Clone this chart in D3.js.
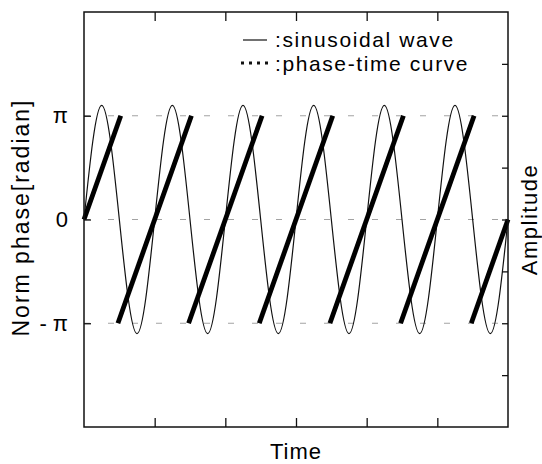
<!DOCTYPE html>
<html>
<head>
<meta charset="utf-8">
<script src="https://cdn.jsdelivr.net/npm/d3@7"></script>
<style>
  body { margin: 0; background: #fff; }
  text { font-family: "Liberation Sans", Arial, sans-serif; fill: #000; }
</style>
</head>
<body>
<div id="chart"></div>
<script>
// time axis (arbitrary units, one tick per period)
const timeTicks = [1, 2, 3, 4, 5];

// phase axis, in units of pi
const phaseTicks = [1, 0, -1];
const phaseTickLabels = ["\u03c0", "0", "- \u03c0"];

// amplitude axis (right side, unlabeled ticks)
const ampTicks = [-3, -2, -1, 0, 1, 2, 3];

// sinusoidal wave: zero crossings, peaks and troughs
const sineTime = [0, 0.25, 0.5, 0.75, 1, 1.25, 1.5, 1.75, 2, 2.25, 2.5, 2.75, 3,
                  3.25, 3.5, 3.75, 4, 4.25, 4.5, 4.75, 5, 5.25, 5.5, 5.75, 6];
const sineAmp = [0, 2.2, 0, -2.2, 0, 2.2, 0, -2.2, 0, 2.2, 0, -2.2, 0,
                 2.2, 0, -2.2, 0, 2.2, 0, -2.2, 0, 2.2, 0, -2.2, 0];

// phase-time curve: one straight segment per cycle (phase in units of pi)
const sawStartTime = [0, 0.48, 1.48, 2.48, 3.48, 4.48, 5.48];
const sawEndTime = [0.52, 1.52, 2.52, 3.52, 4.52, 5.52, 6];
const sawStartPhase = [0, -1, -1, -1, -1, -1, -1];
const sawEndPhase = [1, 1, 1, 1, 1, 1, 0];

const W = 542, H = 464;
const margin = {top: 12, right: 34, bottom: 37, left: 84},
      width = W - margin.left - margin.right,
      height = H - margin.top - margin.bottom;

const svg = d3.select("#chart").append("svg")
    .attr("width", W)
    .attr("height", H)
    .append("g")
    .attr("transform", `translate(${margin.left}, ${margin.top})`);

// scales
const x = d3.scaleLinear().domain([0, 6]).range([0, width]);
const yPhase = d3.scaleLinear().domain([-2, 2]).range([height, 0]);
const yAmp = d3.scaleLinear().domain([-4, 4]).range([height, 0]);

// dashed reference lines at pi, 0, -pi
svg.selectAll(".grid")
    .data(phaseTicks)
    .enter().append("line")
    .attr("x1", 0).attr("x2", width)
    .attr("y1", d => yPhase(d)).attr("y2", d => yPhase(d))
    .style("stroke", "#999")
    .style("stroke-width", 0.9)
    .style("stroke-dasharray", "6,18");

// sinusoid
const sineData = sineTime.map((t, i) => ({t: t, a: sineAmp[i]}));
svg.append("path")
    .datum(sineData)
    .attr("d", d3.line().x(d => x(d.t)).y(d => yAmp(d.a)).curve(d3.curveNatural))
    .style("fill", "none")
    .style("stroke", "#111")
    .style("stroke-width", 1.2);

// phase-time segments
const sawData = sawStartTime.map((t, i) => ({
    t0: t, t1: sawEndTime[i], p0: sawStartPhase[i], p1: sawEndPhase[i]
}));
svg.selectAll(".saw")
    .data(sawData)
    .enter().append("line")
    .attr("class", "saw")
    .attr("x1", d => x(d.t0)).attr("y1", d => yPhase(d.p0))
    .attr("x2", d => x(d.t1)).attr("y2", d => yPhase(d.p1))
    .style("stroke", "#000")
    .style("stroke-width", 4.8);

// axes: all ticks point inward
const tickStyle = g => {
    g.select(".domain").remove();
    g.selectAll(".tick line").style("stroke", "#111").style("stroke-width", 1.3);
};

svg.append("g")
    .attr("transform", `translate(0, ${height})`)
    .call(d3.axisBottom(x).tickValues(timeTicks).tickSize(-9).tickFormat(""))
    .call(tickStyle);

svg.append("g")
    .call(d3.axisTop(x).tickValues(timeTicks).tickSize(-9).tickFormat(""))
    .call(tickStyle);

svg.append("g")
    .attr("transform", `translate(${width}, 0)`)
    .call(d3.axisRight(yAmp).tickValues(ampTicks).tickSize(-6).tickFormat(""))
    .call(tickStyle);

const yAxis = svg.append("g")
    .call(d3.axisLeft(yPhase).tickValues(phaseTicks).tickSize(-7)
        .tickPadding(16).tickFormat((d, i) => phaseTickLabels[i]))
    .call(tickStyle);
yAxis.selectAll(".tick text")
    .style("font-size", "22px")
    .style("font-family", "'Liberation Sans', Arial, sans-serif")
    .style("fill", "#000");

// frame
svg.append("rect")
    .attr("width", width)
    .attr("height", height)
    .style("fill", "none")
    .style("stroke", "#111")
    .style("stroke-width", 1.5);

// axis titles
svg.append("text")
    .attr("text-anchor", "middle")
    .attr("x", width / 2)
    .attr("y", height + 32)
    .style("font-size", "22px")
    .style("letter-spacing", "1px")
    .text("Time");

svg.append("text")
    .attr("transform", "rotate(-90)")
    .attr("text-anchor", "middle")
    .attr("x", -yPhase(0) + 2)
    .attr("y", -margin.left + 29)
    .style("font-size", "23px")
    .style("letter-spacing", "2px")
    .text("Norm phase[radian]");

svg.append("text")
    .attr("transform", "rotate(-90)")
    .attr("text-anchor", "middle")
    .attr("x", -yPhase(0))
    .attr("y", width + 29)
    .style("font-size", "22px")
    .style("letter-spacing", "1.5px")
    .text("Amplitude");

// legend
const legend = svg.append("g").attr("transform", "translate(159, 28)");
legend.append("line")
    .attr("x1", 0).attr("x2", 24).attr("y1", 0).attr("y2", 0)
    .style("stroke", "#111").style("stroke-width", 1.2);
legend.append("text")
    .attr("x", 32).attr("y", 7)
    .style("font-size", "21px")
    .style("letter-spacing", "1.6px")
    .text(":sinusoidal wave");
legend.append("line")
    .attr("x1", -2).attr("x2", 26).attr("y1", 23).attr("y2", 23)
    .style("stroke", "#111").style("stroke-width", 3)
    .style("stroke-dasharray", "3,5");
legend.append("text")
    .attr("x", 32).attr("y", 31)
    .style("font-size", "21px")
    .style("letter-spacing", "1.6px")
    .text(":phase-time curve");
</script>
</body>
</html>
